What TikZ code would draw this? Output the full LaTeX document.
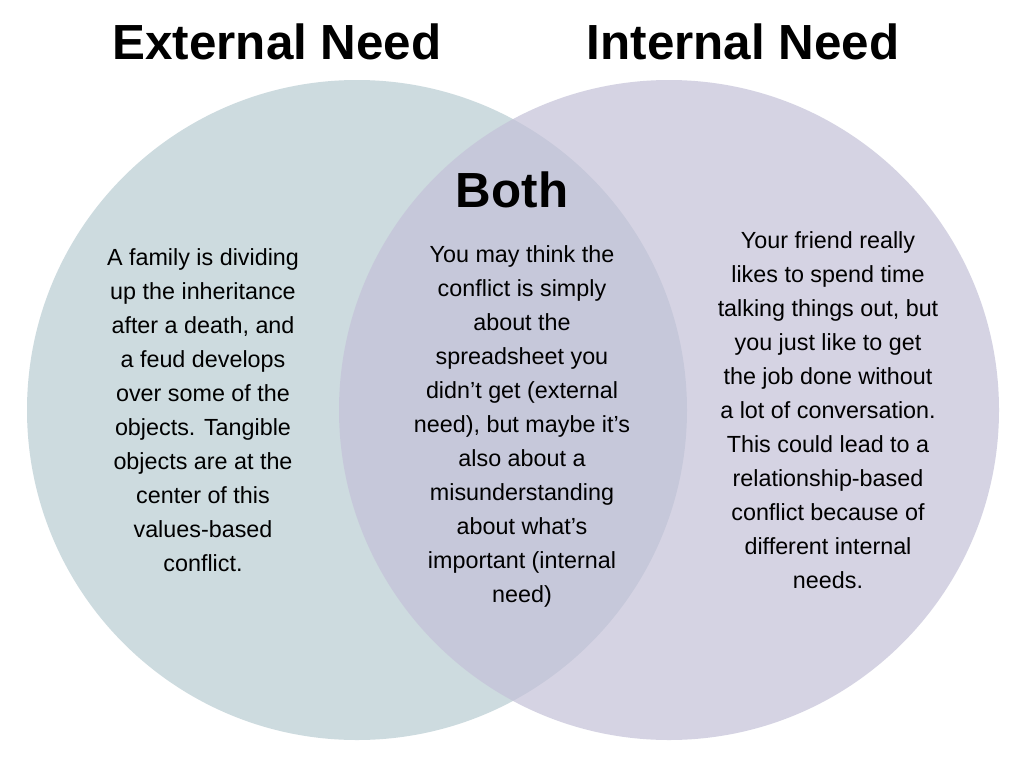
\documentclass[tikz,border=0pt]{standalone}
\usepackage{fontspec}
\setmainfont{Liberation Sans}
\usetikzlibrary{positioning}

\begin{document}
\begin{tikzpicture}[x=0.75pt, y=-0.75pt,
        set/.style={circle, minimum size=495pt, inner sep=0pt},
        title/.style={font=\bfseries\fontsize{37}{40}\selectfont},
        body/.style={align=center, font=\fontsize{17.5}{25.5}\selectfont}]
        \useasboundingbox (0,0) rectangle (1024,768);
        \fill[white] (0,0) rectangle (1024,768);
        \node[set, fill={rgb,255:red,184;green,204;blue,210}, fill opacity=0.7] (L) at (357,410) {};
        \node[set, fill={rgb,255:red,196;green,193;blue,216}, fill opacity=0.7] (R) at (669,410) {};

        \node[title] (TL) at (277,42) {External Need};
        \node[title] (TR) at (743,42) {Internal Need};
        \node[title] (TB) at (512,190) {Both};

        \node[body] (BL) at (203,410) {A family is dividing\\up the inheritance\\after a death, and\\a feud develops\\over some of the\\objects. Tangible\\objects are at the\\center of this\\values-based\\conflict.};
        \node[body] (BM) at (522,426) {You may think the\\conflict is simply\\about the\\spreadsheet you\\didn't get (external\\need), but maybe it's\\also about a\\misunderstanding\\about what's\\important (internal\\need)};
        \node[body] (BR) at (828,410) {Your friend really\\likes to spend time\\talking things out, but\\you just like to get\\the job done without\\a lot of conversation.\\This could lead to a\\relationship-based\\conflict because of\\different internal\\needs.};
    \end{tikzpicture}
\end{document}
